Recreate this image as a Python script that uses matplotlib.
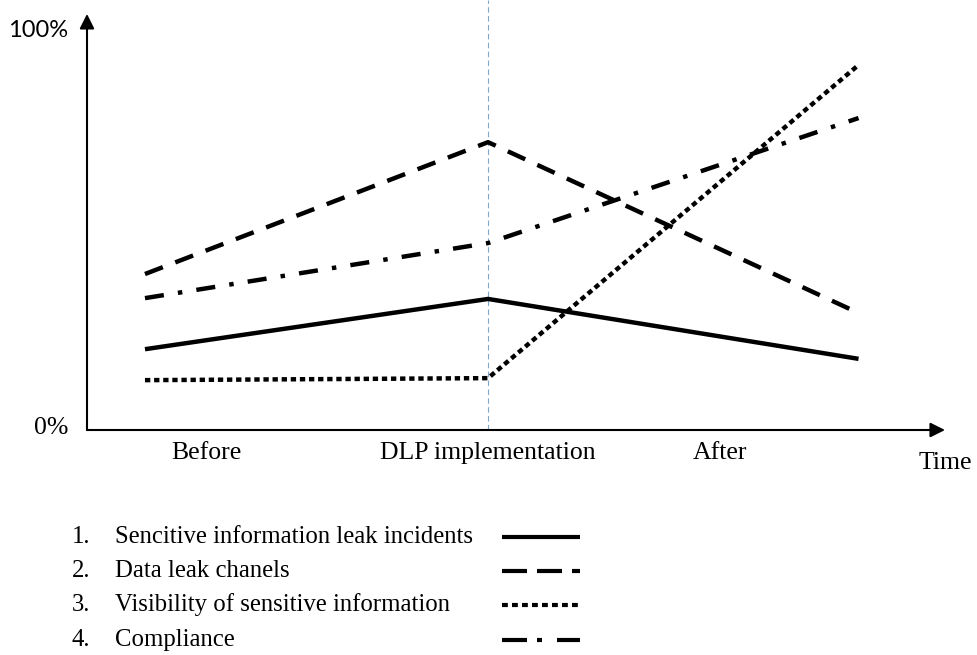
import numpy as np
import matplotlib.pyplot as plt

# time points (the three phases) and series values in percent
time = [0.0, 1.0, 2.08]
incidents = [20.1, 32.6, 17.7]
channels = [38.8, 71.6, 29.1]
visibility = [12.4, 12.9, 90.8]
compliance = [32.8, 46.5, 77.6]

phase_labels = ['Before', 'DLP implementation', 'After']
phase_label_x = [0.18, 1.0, 1.676]
legend_labels = ['Sencitive information leak incidents', 'Data leak chanels',
                 'Visibility of sensitive information', 'Compliance']

styles = ['-', (0, (4.3, 3.0)), (0, (1.2, 0.85)), (0, (4.3, 3.2, 1.0, 3.2))]
legend_styles = ['-', (0, (6.0, 2.4)), (0, (1.4, 1.0)), (0, (6.0, 2.4, 1.2, 3.6))]
series = [incidents, channels, visibility, compliance]

serif = 'Liberation Serif'

fig = plt.figure(figsize=(9.77, 6.55), dpi=100)
ax = fig.add_axes([87 / 977, (655 - 430) / 655, (945 - 87) / 977, 402 / 655])
ax.set_xlim(-0.169, 2.332)
ax.set_ylim(0, 100)
for s in ax.spines.values():
    s.set_visible(False)
ax.set_xticks([])
ax.set_yticks([])

# axes with arrow heads
ax.annotate('', xy=(0, 1.035), xytext=(0, 0), xycoords='axes fraction',
            arrowprops=dict(arrowstyle='-|>', color='black', lw=1.5,
                            mutation_scale=22, shrinkA=0, shrinkB=0))
ax.annotate('', xy=(1.0, 0), xytext=(0, 0), xycoords='axes fraction',
            arrowprops=dict(arrowstyle='-|>', color='black', lw=1.5,
                            mutation_scale=22, shrinkA=0, shrinkB=0))

# DLP implementation marker
ax.axvline(time[1], ymin=0, ymax=1.07, color='#7fa7c9', lw=0.8,
           ls=(0, (5, 3)), clip_on=False)

for vals, ls in zip(series, styles):
    ax.plot(time, vals, color='black', lw=3.2, ls=ls, solid_capstyle='butt',
            dash_capstyle='butt', clip_on=False)

# axis labels
ax.text(-0.022, 0.995, '100%', family='Lato', fontsize=17, ha='right', va='center',
        transform=ax.transAxes)
ax.text(-0.022, 0.006, '0%', family=serif, fontsize=18.5, ha='right', va='center',
        transform=ax.transAxes)
for x, lab in zip(phase_label_x, phase_labels):
    ax.text(x, -2.9, lab, family=serif, fontsize=18.5, ha='center', va='top')
ax.text(2.332, -5.5, 'Time', family=serif, fontsize=18.5, ha='center', va='top')

# legend drawn below the chart in pixel coordinates
lax = fig.add_axes([0, 0, 1, 1])
lax.set_xlim(0, 977)
lax.set_ylim(655, 0)
lax.axis('off')
rows = [537, 571, 605, 640]
for i, (lab, ls, y) in enumerate(zip(legend_labels, legend_styles, rows)):
    lax.text(72, y, f'{i + 1}.', family=serif, fontsize=17.8, va='center')
    lax.text(115, y, lab, family=serif, fontsize=17.8, va='center')
    lax.plot([502, 580], [y, y], color='black', lw=3, ls=ls,
             solid_capstyle='butt', dash_capstyle='butt')

fig.savefig('out.png', dpi=100)
